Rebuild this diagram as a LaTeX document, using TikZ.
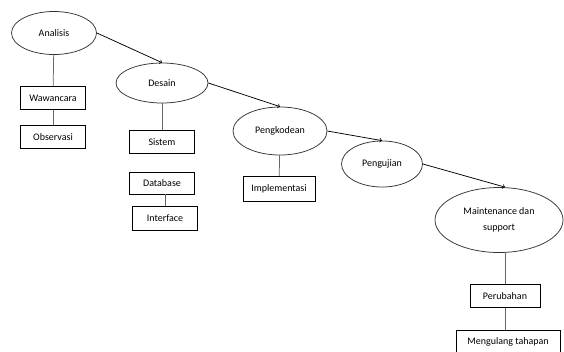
\documentclass[tikz,border=0pt]{standalone}
\usepackage{fontspec}
\setmainfont{Carlito}
\usetikzlibrary{shapes.geometric}

\begin{document}
\begin{tikzpicture}[x=1pt,y=-1pt,
  font=\fontsize{10}{16}\selectfont,
  fase/.style={shape=ellipse,draw=black!80,inner sep=0pt},
  kotak/.style={shape=rectangle,draw=black,minimum width=65pt,minimum height=23pt,inner xsep=6pt,inner ysep=0pt},
  line width=0.75pt]
\useasboundingbox (0,0) rectangle (564,351);

\node[fase,minimum width=85pt,minimum height=43pt] (Analisis) at (54,33) {Analisis};
\node[kotak] (Wawancara) at (53,98) {Wawancara};
\node[kotak] (Observasi) at (53,137) {Observasi};

\node[fase,minimum width=92pt,minimum height=40pt] (Desain) at (162,83) {Desain};
\node[kotak] (Sistem) at (162,142) {Sistem};
\node[kotak,minimum height=22pt] (Database) at (162,183) {Database};
\node[kotak,minimum height=24pt] (Interface) at (165,218) {Interface};

\node[fase,minimum width=94pt,minimum height=48pt] (Pengkodean) at (280,131) {Pengkodean};
\node[kotak,minimum width=72pt,minimum height=25pt] (Implementasi) at (279,189) {Implementasi};

\node[fase,minimum width=81pt,minimum height=46pt] (Pengujian) at (382,164) {Pengujian};

\node[fase,minimum width=128pt,minimum height=65pt,align=center] (Maintenance) at (499,220) {Maintenance dan\\support};
\node[kotak,minimum width=70pt] (Perubahan) at (505,296) {Perubahan};
\node[kotak,minimum width=104pt] (Mengulang) at (508,341.5) {Mengulang tahapan};

\path[->] (Analisis.east) edge (Desain.north);
\path[->] (Desain.east) edge (Pengkodean.north);
\path[->] (Pengkodean.east) edge (Pengujian.north);
\path[->] (Pengujian.east) edge ([xshift=6pt]Maintenance.north);

\path[draw=black!60] (Analisis) edge (Wawancara);
\path[draw=black!60] (Wawancara) edge (Observasi);
\path[draw=black!60] (Desain) edge (Sistem);
\path[draw=black!60] (Database.south -| Interface.north) edge (Interface.north);
\path[draw=black!60] (Pengkodean) edge (Implementasi);
\path[draw=black!60] (Maintenance.south -| Perubahan.north) edge (Perubahan);
\path[draw=black!60] (Perubahan) edge (Perubahan.south |- Mengulang.north);
\end{tikzpicture}
\end{document}
